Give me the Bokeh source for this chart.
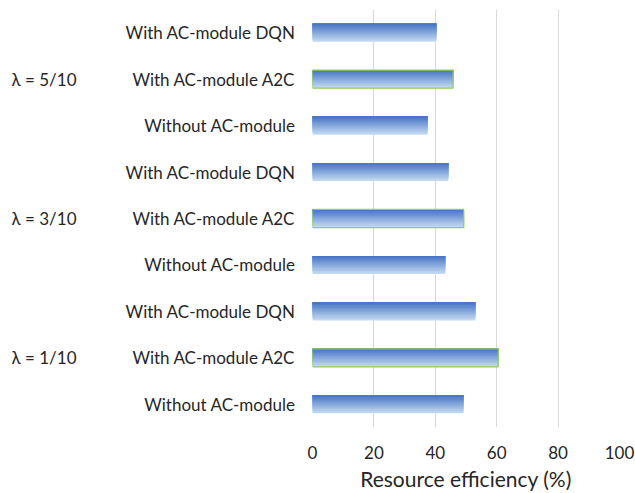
from bokeh.plotting import figure
from bokeh.models import Range1d, FixedTicker, LinearAxis
from bokeh.embed import file_html
from bokeh.resources import INLINE

# Groups (bottom to top) and methods within each group (bottom to top)
group_labels = ["λ = 1/10", "λ = 3/10", "λ = 5/10"]
method_labels = ["Without AC-module", "With AC-module A2C", "With AC-module DQN"]

# Resource efficiency (%) per method, one list per λ value
eff_lambda_1_10 = [49.1, 60.5, 53.0]
eff_lambda_3_10 = [43.2, 49.3, 44.2]
eff_lambda_5_10 = [37.4, 45.8, 40.3]

x_ticks = [0, 20, 40, 60, 80, 100]

FONT = "Lato"
TEXT_COLOR = "#262626"

series = [eff_lambda_1_10, eff_lambda_3_10, eff_lambda_5_10]
n_methods = len(method_labels)

row_y, row_val, row_label, a2c_y, a2c_val = [], [], [], [], []
for g, vals in enumerate(series):
    for m, v in enumerate(vals):
        y = g * n_methods + m
        row_y.append(y)
        row_val.append(v)
        row_label.append(method_labels[m])
        if method_labels[m].endswith("A2C"):
            a2c_y.append(y)
            a2c_val.append(v)

n_rows = len(row_y)
group_centers = [g * n_methods + (n_methods - 1) / 2 for g in range(len(group_labels))]

p = figure(
    width=635, height=493,
    output_backend="svg", toolbar_location=None,
    x_range=Range1d(0, 100), y_range=Range1d(-0.5, n_rows - 0.5),
    min_border_left=312, min_border_right=16,
    min_border_top=9, min_border_bottom=60,
)
p.outline_line_color = None
p.background_fill_color = "white"
p.border_fill_color = "white"

# Bars with a vertical gradient: dark blue on top fading to pale blue below.
# Each layer runs from its own lower edge up to the bar top, painted bottom-up,
# so neighbouring layers overlap and no white seams appear.
bar_h = 0.39
n_strips = 30
top_rgb = (68, 114, 196)
bot_rgb = (200, 221, 243)
for k in range(n_strips):
    frac = k / n_strips  # lower edge of this layer, 0 = bar bottom
    mix = (k + 0.5) / n_strips
    rgb = tuple(int(round(b + (t - b) * mix)) for t, b in zip(top_rgb, bot_rgb))
    color = "#%02x%02x%02x" % rgb
    layer_h = bar_h * (1 - frac)
    ys = [y + bar_h / 2 - layer_h / 2 for y in row_y]
    p.hbar(y=ys, left=0, right=row_val, height=layer_h,
           fill_color=color, line_color=None)

# Green outline on the A2C bars
p.hbar(y=a2c_y, left=0, right=a2c_val, height=bar_h,
       fill_color=None, line_color="#92D050", line_width=1.2)

# X axis
p.xaxis.ticker = FixedTicker(ticks=x_ticks)
p.xaxis.axis_line_color = None
p.xaxis.major_tick_line_color = None
p.xaxis.minor_tick_line_color = None
p.xaxis.major_label_standoff = 12
p.xaxis.major_label_text_font = FONT
p.xaxis.major_label_text_font_size = "17px"
p.xaxis.major_label_text_color = TEXT_COLOR
p.xaxis.axis_label = "Resource efficiency (%)"
p.xaxis.axis_label_text_font = FONT
p.xaxis.axis_label_text_font_size = "21px"
p.xaxis.axis_label_text_font_style = "normal"
p.xaxis.axis_label_text_color = TEXT_COLOR
p.xaxis.axis_label_standoff = 4

p.xgrid.ticker = FixedTicker(ticks=x_ticks)
p.xgrid.grid_line_color = "#d9d9d9"
p.xgrid.grid_line_width = 1
p.ygrid.grid_line_color = None

# Inner y axis: method names
p.yaxis.ticker = FixedTicker(ticks=row_y)
p.yaxis.major_label_overrides = {y: lab for y, lab in zip(row_y, row_label)}
p.yaxis.axis_line_color = None
p.yaxis.major_tick_line_color = None
p.yaxis.minor_tick_line_color = None
p.yaxis.major_label_standoff = 11
p.yaxis.major_label_text_font = FONT
p.yaxis.major_label_text_font_size = "17px"
p.yaxis.major_label_text_color = TEXT_COLOR

# Outer y axis: λ group names
group_axis = LinearAxis(
    ticker=FixedTicker(ticks=group_centers),
    major_label_overrides={c: lab for c, lab in zip(group_centers, group_labels)},
    axis_line_color=None,
    major_tick_line_color=None,
    minor_tick_line_color=None,
    major_label_standoff=40,
    major_label_text_font=FONT,
    major_label_text_font_size="17px",
    major_label_text_color=TEXT_COLOR,
)
p.add_layout(group_axis, "left")

open("out.html", "w").write(file_html(p, INLINE))
